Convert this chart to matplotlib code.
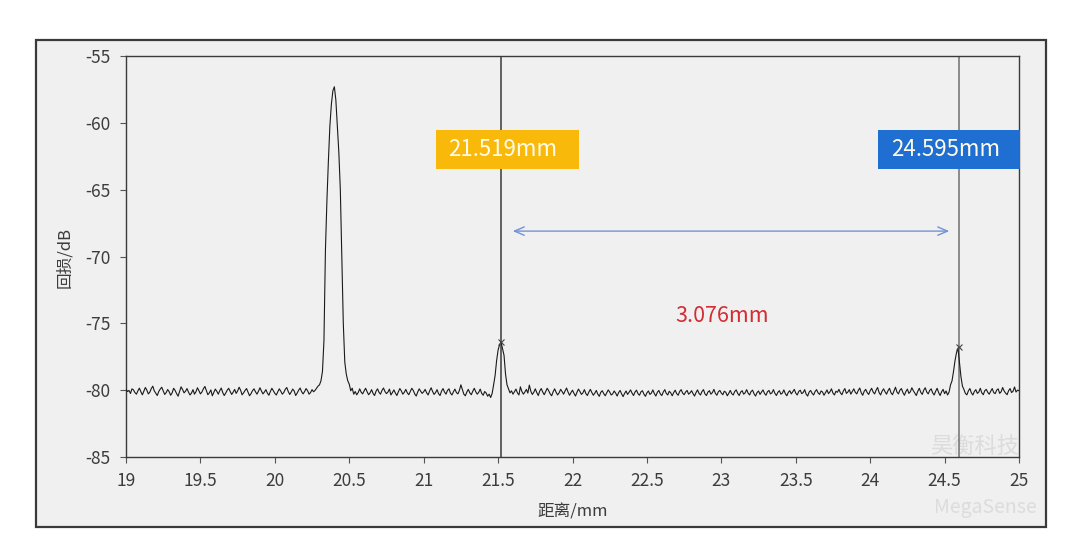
import numpy as np
import matplotlib
matplotlib.use("Agg")
import matplotlib.pyplot as plt
from matplotlib.patches import Rectangle

plt.rcParams['font.family'] = ['Noto Sans CJK SC', 'DejaVu Sans']
plt.rcParams['axes.unicode_minus'] = False

# ---- data (distance in mm, return loss in dB), samples every 0.01 mm from 19.00 to 25.00
x_start = 19.0
x_step = 0.01
loss_db = [
    -79.95, -80.10, -80.02, -80.25, -79.90, -79.98, -80.18, -80.30, -80.05, -79.85,
    -80.12, -80.35, -80.08, -79.80, -80.00, -80.28, -80.15, -79.88, -79.70, -80.05,
    -80.22, -80.40, -80.10, -79.92, -79.78, -80.05, -80.32, -80.18, -79.95, -80.12,
    -80.38, -80.20, -79.86, -80.02, -80.26, -80.45, -80.10, -79.75, -79.95, -80.20,
    -80.08, -79.88, -80.15, -80.36, -80.22, -79.96, -80.30, -80.12, -79.82, -80.04,
    -80.28, -80.14, -79.90, -79.72, -80.02, -80.34, -80.20, -79.98, -80.42, -80.16,
    -79.92, -80.08, -80.30, -80.04, -79.84, -80.18, -80.40, -80.22, -80.00, -79.86,
    -80.10, -80.32, -80.15, -79.94, -80.24, -80.06, -79.78, -80.00, -80.35, -80.20,
    -80.02, -79.88, -80.16, -80.42, -80.26, -80.04, -79.90, -80.12, -80.30, -80.08,
    -79.82, -80.06, -80.28, -80.14, -79.96, -80.22, -80.38, -80.10, -79.86, -80.04,
    -80.24, -80.36, -80.12, -79.90, -80.08, -80.30, -80.18, -79.94, -79.80, -80.10,
    -80.32, -80.14, -79.92, -80.06, -80.40, -80.22, -80.00, -79.84, -80.12, -80.28,
    -80.10, -79.88, -80.04, -80.30, -80.18, -79.96, -80.12, -80.02, -79.86, -79.70,
    -79.60, -79.30, -78.60, -76.30, -69.50, -65.80, -62.80, -60.20, -58.60, -57.60,
    -57.30, -58.30, -60.30, -62.20, -65.00, -70.00, -75.00, -77.90, -78.80, -79.30,
    -79.55, -80.05, -79.85, -80.30, -80.10, -80.35, -80.18, -79.90, -80.15, -80.28,
    -80.05, -79.86, -80.12, -80.34, -80.20, -79.96, -80.24, -80.40, -80.08, -79.90,
    -80.16, -80.30, -80.02, -79.84, -80.10, -80.26, -80.14, -79.92, -80.36, -80.18,
    -79.98, -80.22, -80.40, -80.12, -79.88, -80.06, -80.30, -80.16, -79.94, -80.20,
    -80.34, -80.10, -79.86, -80.02, -80.28, -80.44, -80.14, -79.90, -80.08, -80.24,
    -80.12, -79.94, -80.20, -80.36, -80.06, -79.82, -80.10, -80.32, -80.18, -79.96,
    -80.26, -80.40, -80.08, -79.88, -80.14, -80.30, -80.02, -79.90, -80.22, -80.36,
    -80.12, -79.92, -80.18, -80.28, -80.02, -79.60, -79.95, -80.30, -80.42, -80.14,
    -79.94, -80.20, -80.34, -80.08, -79.86, -80.12, -80.30, -80.16, -79.92, -80.24,
    -80.38, -80.10, -80.22, -80.45, -80.30, -80.55, -80.25, -79.60, -78.90, -77.80,
    -77.00, -76.60, -76.40, -76.90, -77.40, -78.80, -79.60, -79.90, -80.20, -80.05,
    -80.30, -80.12, -79.92, -80.20, -80.36, -79.75, -80.10, -80.30, -80.14, -79.94,
    -80.22, -79.62, -80.08, -80.32, -80.16, -79.90, -80.18, -80.40, -80.06, -79.88,
    -80.14, -80.34, -80.10, -79.86, -80.04, -80.28, -80.42, -80.12, -79.90, -80.16,
    -80.36, -80.20, -79.94, -80.10, -80.30, -80.06, -79.84, -80.14, -80.38, -80.18,
    -80.00, -80.24, -80.44, -80.16, -79.92, -80.10, -80.32, -80.20, -79.96, -80.26,
    -80.40, -80.14, -79.94, -80.18, -80.38, -80.22, -80.02, -80.30, -80.46, -80.16,
    -80.04, -80.26, -80.42, -80.20, -79.98, -80.14, -80.36, -80.28, -80.06, -80.22,
    -80.44, -80.18, -80.02, -80.28, -80.48, -80.24, -80.06, -80.32, -80.16, -79.98,
    -80.22, -80.40, -80.14, -80.00, -80.26, -80.38, -80.12, -80.04, -80.30, -80.46,
    -80.20, -80.06, -80.32, -80.22, -79.98, -80.26, -80.44, -80.16, -80.02, -80.28,
    -80.40, -80.14, -79.96, -80.24, -80.36, -80.08, -80.20, -80.42, -80.18, -80.00,
    -80.26, -80.38, -80.10, -79.96, -80.22, -80.34, -80.14, -80.02, -80.30, -80.20,
    -80.04, -80.26, -80.44, -80.18, -79.98, -80.24, -80.36, -80.10, -79.96, -80.28,
    -80.40, -80.14, -80.04, -80.30, -80.18, -79.94, -80.24, -80.38, -80.12, -80.02,
    -80.22, -80.34, -80.08, -80.16, -80.42, -80.24, -80.02, -80.26, -80.36, -80.10,
    -79.98, -80.24, -80.40, -80.14, -80.04, -80.30, -80.20, -79.96, -80.22, -80.36,
    -80.10, -80.00, -80.28, -80.44, -80.18, -80.06, -80.32, -80.14, -79.98, -80.24,
    -80.38, -80.12, -80.02, -80.28, -80.20, -79.96, -80.24, -80.40, -80.16, -80.04,
    -80.30, -80.22, -79.98, -80.26, -80.42, -80.16, -80.04, -80.28, -80.12, -79.94,
    -80.22, -80.36, -80.10, -80.00, -80.26, -80.18, -79.96, -80.30, -80.44, -80.14,
    -80.02, -80.24, -80.36, -80.10, -79.96, -80.20, -80.32, -80.06, -80.14, -80.38,
    -80.18, -79.98, -80.26, -80.12, -79.90, -80.22, -80.36, -80.08, -80.16, -79.94,
    -80.20, -80.34, -80.06, -79.88, -80.24, -80.14, -79.96, -80.30, -80.10, -79.90,
    -80.16, -80.28, -80.02, -79.84, -80.20, -80.38, -80.08, -79.94, -80.18, -80.32,
    -80.04, -79.86, -80.14, -80.28, -80.00, -79.80, -80.18, -80.36, -80.08, -79.90,
    -80.12, -80.30, -80.04, -79.86, -80.20, -80.34, -80.06, -79.78, -80.14, -80.28,
    -80.00, -79.88, -80.18, -80.38, -80.10, -79.92, -80.24, -80.12, -79.82, -80.04,
    -80.22, -80.40, -80.08, -79.86, -80.16, -80.32, -80.00, -79.82, -80.14, -80.28,
    -80.02, -79.90, -80.20, -80.36, -80.08, -79.86, -80.18, -80.40, -80.12, -79.94,
    -80.26, -80.06, -80.36, -80.15, -79.60, -79.30, -78.60, -77.80, -77.20, -76.85,
    -77.90, -79.00, -79.70, -79.95, -80.25, -80.35, -80.05, -79.88, -80.20, -80.36,
    -80.10, -79.96, -80.24, -80.14, -79.86, -80.20, -80.34, -80.04, -79.94, -80.16,
    -80.30, -80.08, -79.88, -80.18, -80.26, -80.00, -79.90, -80.24, -80.12, -79.80,
    -80.06, -80.22, -80.34, -80.04, -79.88, -80.18, -80.08, -79.76, -80.14, -80.00,
    -80.04,
]
distance_mm = np.round(x_start + x_step * np.arange(len(loss_db)), 2)

cursor_x = [21.519, 24.595]
cursor_y = [-76.4, -76.8]
cursor_labels = ["21.519mm", "24.595mm"]
gap_label = "3.076mm"
x_ticks = [19, 19.5, 20, 20.5, 21, 21.5, 22, 22.5, 23, 23.5, 24, 24.5, 25]
x_tick_labels = ["19", "19.5", "20", "20.5", "21", "21.5", "22", "22.5", "23", "23.5", "24", "24.5", "25"]
y_ticks = [-85, -80, -75, -70, -65, -60, -55]

# ---- figure
W, H = 1080, 549
fig = plt.figure(figsize=(W / 100, H / 100), dpi=100, facecolor='white')

def fx(px):
    return px / W

def fy(py):
    return 1 - py / H

# outer panel frame (drawn underneath the axes)
fig.patches.append(Rectangle((fx(36), fy(527)), fx(1046) - fx(36), fy(40) - fy(527),
                             transform=fig.transFigure, facecolor='#f0f0f0',
                             edgecolor='#3a3a3a', linewidth=1.6, zorder=-10))

# faint watermark (behind axes)
fig.text(fx(975), fy(446), "昊衡科技", ha='center', va='center', fontsize=16,
         color='#dcdcdc', zorder=-5)
fig.text(fx(985), fy(508), "MegaSense", ha='center', va='center', fontsize=14,
         color='#dcdcdc', zorder=-5)

ax = fig.add_axes([fx(126), fy(457), fx(1019) - fx(126), fy(56) - fy(457)])
ax.patch.set_alpha(0.0)
ax.plot(distance_mm, loss_db, color='#1a1a1a', linewidth=0.8, zorder=3)

ax.set_xlim(19, 25)
ax.set_ylim(-85, -55)
ax.set_xticks(x_ticks)
ax.set_xticklabels(x_tick_labels)
ax.set_yticks(y_ticks)
ax.tick_params(axis='both', direction='out', length=4, width=0.8, color='#555555',
               labelsize=12.5, labelcolor='#3c3c3c', pad=7)
for s in ax.spines.values():
    s.set_color('#3a3a3a')
    s.set_linewidth(1.0)

ax.set_xlabel("距离/mm", fontsize=12, color='#3c3c3c')
ax.set_ylabel("回损/dB", fontsize=12, color='#3c3c3c')
ax.xaxis.set_label_coords(0.5, -0.117)
ax.yaxis.set_label_coords(-0.059, 0.497)

# cursors
ax.axvline(cursor_x[0], color='#3a3a3a', linewidth=1.1, zorder=2)
ax.axvline(cursor_x[1], color='#707070', linewidth=1.1, zorder=2)
ax.plot(cursor_x, cursor_y, linestyle='none', marker='x', markersize=4,
        markeredgewidth=0.8, color='#444444', zorder=4)

# cursor value boxes (axes-fraction positions)
box_specs = [
    (0.347, 0.718, 0.160, 0.098, '#F9B90A', 0.422),
    (0.842, 0.718, 0.159, 0.098, '#1F6ED1', 0.918),
]
for (bx, by, bw, bh, col, tx), lab in zip(box_specs, cursor_labels):
    ax.add_patch(Rectangle((bx, by), bw, bh, transform=ax.transAxes,
                           facecolor=col, edgecolor='none', clip_on=False, zorder=5))
    ax.text(tx, by + bh / 2, lab, transform=ax.transAxes, ha='center', va='center',
            fontsize=16, color='#fffbe8', zorder=6, clip_on=False)

# distance arrow
ax.annotate('', xy=(24.55, -68.1), xytext=(21.58, -68.1),
            arrowprops=dict(arrowstyle='<->,head_length=0.7,head_width=0.3',
                            color='#7392d6', linewidth=1.0), zorder=4)
ax.text(23.005, -74.45, gap_label, ha='center', va='center', fontsize=15.5,
        color='#d42c35', zorder=4)

fig.savefig('out.png', dpi=100, facecolor='white')
